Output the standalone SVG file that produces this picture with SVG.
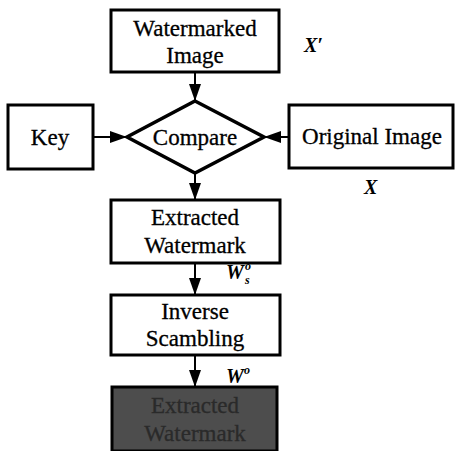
<svg xmlns="http://www.w3.org/2000/svg" width="455" height="451" viewBox="0 0 455 451">
<style>
.box{fill:#fff;stroke:#000;stroke-width:3}
.t{font-family:"Liberation Serif","Times New Roman",serif;font-size:23px;fill:#000;stroke:#000;stroke-width:0.3;text-anchor:middle}
.v{font-family:"Liberation Serif","Times New Roman",serif;font-size:20px;font-weight:bold;font-style:italic;fill:#000}
.s{font-family:"Liberation Serif","Times New Roman",serif;font-size:12px;font-weight:bold;font-style:italic;fill:#000}
.c{stroke:#000;stroke-width:2;fill:none}
</style>
<defs>
<marker id="ah" viewBox="0 0 17 12" refX="17" refY="6" markerWidth="17" markerHeight="12" markerUnits="userSpaceOnUse" orient="auto">
<path d="M0,0 L17,6 L0,12 Z" fill="#000"/>
</marker>
</defs>
<rect width="455" height="451" fill="#fff"/>
<g id="connectors">
<line class="c" x1="195" y1="72" x2="195" y2="101" marker-end="url(#ah)"/>
<line class="c" x1="93" y1="137" x2="127" y2="137" marker-end="url(#ah)"/>
<line class="c" x1="289" y1="137" x2="264" y2="137" marker-end="url(#ah)"/>
<line class="c" x1="195" y1="174" x2="195" y2="200" marker-end="url(#ah)"/>
<line class="c" x1="195" y1="263" x2="195" y2="295" marker-end="url(#ah)"/>
<line class="c" x1="195" y1="355" x2="195" y2="387" marker-end="url(#ah)"/>
</g>
<g id="watermarked">
<rect class="box" x="111" y="10" width="168" height="62"/>
<text class="t" x="195" y="36">Watermarked</text>
<text class="t" x="195" y="63">Image</text>
</g>
<text class="v" x="304" y="52">X′</text>
<g id="compare">
<polygon points="195,101 264,137 195,173 127,137" fill="#fff" stroke="#000" stroke-width="3.5"/>
<text class="t" x="195" y="145">Compare</text>
</g>
<g id="key">
<rect class="box" x="8" y="105" width="85" height="64"/>
<text class="t" x="50" y="145">Key</text>
</g>
<g id="original">
<rect class="box" x="289" y="105" width="164" height="63"/>
<text class="t" x="372" y="144">Original Image</text>
</g>
<text class="v" x="364" y="194">X</text>
<g id="extracted">
<rect class="box" x="111" y="200" width="169" height="63"/>
<text class="t" x="195" y="225">Extracted</text>
<text class="t" x="195" y="253">Watermark</text>
</g>
<text class="v" x="226" y="279">W</text>
<text class="s" x="245" y="284">s</text>
<text class="s" x="245" y="270">o</text>
<g id="inverse">
<rect class="box" x="111" y="295" width="169" height="60"/>
<text class="t" x="195" y="319">Inverse</text>
<text class="t" x="195" y="346">Scambling</text>
</g>
<text class="v" x="226" y="383">W</text>
<text class="s" x="244" y="374">o</text>
<g id="result">
<rect x="112" y="387" width="165" height="64" fill="#4d4d4d" stroke="#000" stroke-width="3"/>
<text class="t" x="195" y="413" style="fill:#2a2a2a;stroke:#2a2a2a">Extracted</text>
<text class="t" x="195" y="441" style="fill:#2a2a2a;stroke:#2a2a2a">Watermark</text>
</g>
</svg>
